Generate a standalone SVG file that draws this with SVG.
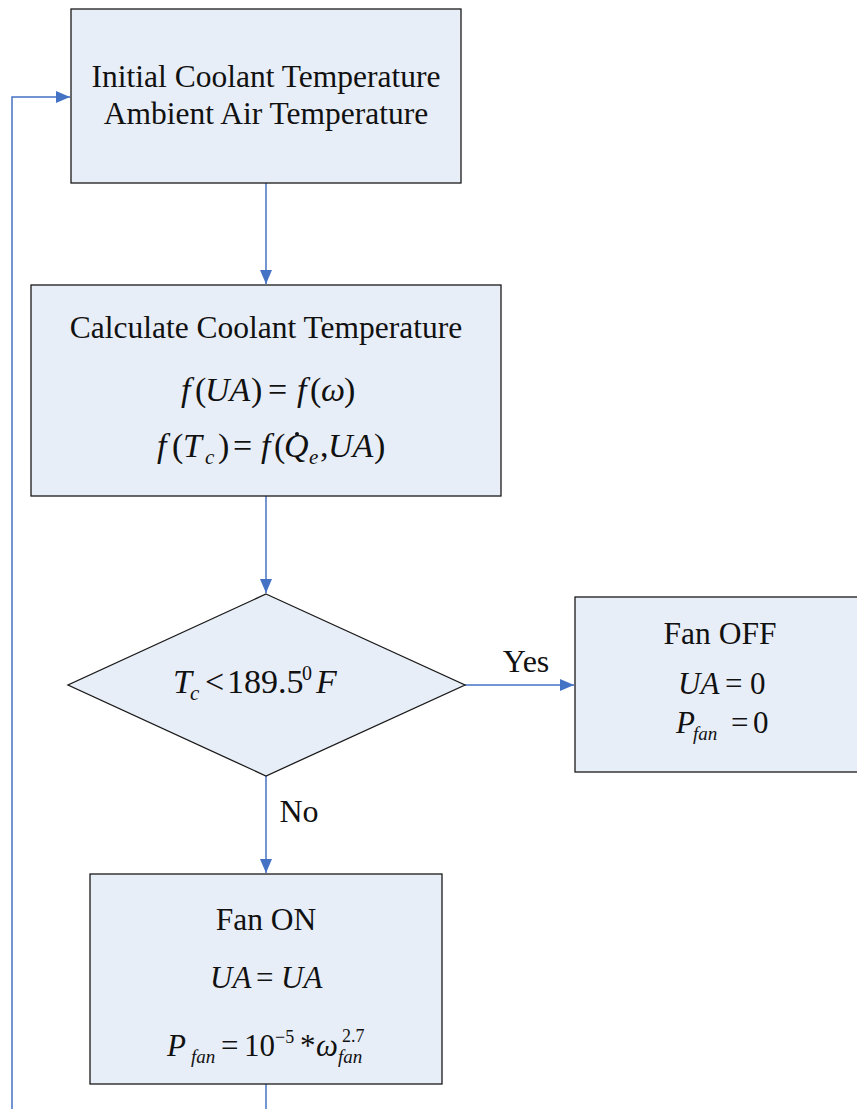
<svg xmlns="http://www.w3.org/2000/svg" width="857" height="1109" viewBox="0 0 857 1109">
<style>
.box{fill:#E8EEF7;stroke:#1a1a1a;stroke-width:1.3}
.t{font-family:"Liberation Serif",serif;font-size:31.5px;fill:#111;text-anchor:middle}
.lb{font-family:"Liberation Serif",serif;font-size:32px;fill:#111;text-anchor:middle}
.m{font-family:"Liberation Serif",serif;font-size:34px;fill:#111}
.mf{font-family:"Liberation Serif",serif;font-size:31px;fill:#111}
.i{font-style:italic}
.s{font-size:21px}
.p{font-size:20px}
.s2{font-size:19px}
.p2{font-size:18px}
.c{stroke:#4472C4;stroke-width:1.5;fill:none}
</style>
<defs>
<marker id="ah2" markerWidth="14" markerHeight="12" refX="14" refY="6" orient="auto" markerUnits="userSpaceOnUse" viewBox="0 0 14 12">
<path d="M0,0 L14,6 L0,12 Z" fill="#4472C4"/>
</marker>
</defs>
<g id="connectors">
<path class="c" d="M266,183 V284" marker-end="url(#ah2)"/>
<path class="c" d="M266,496 V593" marker-end="url(#ah2)"/>
<path class="c" d="M266,776 V873" marker-end="url(#ah2)"/>
<path class="c" d="M465,685 H574" marker-end="url(#ah2)"/>
<path class="c" d="M266,1084 V1109"/>
<path class="c" d="M12,1109 V97 H70" marker-end="url(#ah2)"/>
<text class="lb" x="526" y="672">Yes</text>
<text class="lb" x="299" y="822">No</text>
</g>
<g id="node-init">
<rect class="box" x="71" y="9" width="390" height="174"/>
<text class="t" x="266" y="87">Initial Coolant Temperature</text>
<text class="t" x="266" y="124">Ambient Air Temperature</text>
</g>
<g id="node-calc">
<rect class="box" x="31" y="285" width="470" height="211"/>
<text class="t" x="266" y="338">Calculate Coolant Temperature</text>
<text class="m" y="401"><tspan class="i" x="181">f</tspan><tspan x="195">(</tspan><tspan class="i" x="205">UA</tspan><tspan x="251">)</tspan><tspan x="268">=</tspan><tspan class="i" x="297">f</tspan><tspan x="310">(</tspan><tspan class="i" x="321">ω</tspan><tspan x="344">)</tspan></text>
<text class="m" y="457"><tspan class="i" x="157">f</tspan><tspan x="172">(</tspan><tspan class="i" x="183">T</tspan><tspan class="i s" x="205" dy="7">c</tspan><tspan x="218" dy="-7">)</tspan><tspan x="233">=</tspan><tspan class="i" x="261">f</tspan><tspan x="274">(</tspan><tspan class="i" x="284">Q</tspan><tspan class="i s" x="309" dy="7">e</tspan><tspan x="320" dy="-7">,</tspan><tspan class="i" x="328">UA</tspan><tspan x="374">)</tspan></text>
<circle cx="297" cy="434" r="2" fill="#111"/>
</g>
<g id="node-decision">
<polygon class="box" points="266,594 465,685 266,776 68,685"/>
<text class="m" y="693"><tspan class="i" x="173">T</tspan><tspan class="i s" x="190" dy="7">c</tspan><tspan x="205" dy="-7">&lt;</tspan><tspan x="227">189.5</tspan><tspan class="p" x="302" dy="-13">0</tspan><tspan class="i" x="316" dy="13">F</tspan></text>
</g>
<g id="node-fanoff">
<rect class="box" x="575" y="597" width="290" height="175"/>
<text class="t" x="720" y="644">Fan OFF</text>
<text class="mf" y="694"><tspan class="i" x="678">UA</tspan><tspan x="725">=</tspan><tspan x="750">0</tspan></text>
<text class="mf" y="733"><tspan class="i" x="676">P</tspan><tspan class="i s2" x="693" dy="7">fan</tspan><tspan x="731" dy="-7">=</tspan><tspan x="753">0</tspan></text>
</g>
<g id="node-fanon">
<rect class="box" x="90" y="874" width="352" height="210"/>
<text class="t" x="266" y="930">Fan ON</text>
<text class="mf" y="988"><tspan class="i" x="210">UA</tspan><tspan x="256">=</tspan><tspan class="i" x="281">UA</tspan></text>
<text class="mf" y="1056"><tspan class="i" x="167">P</tspan><tspan class="i s2" x="191" dy="7">fan</tspan><tspan x="221" dy="-7">=</tspan><tspan x="244">10</tspan><tspan class="p2" x="275" dy="-13">−5</tspan><tspan x="300" dy="13">*</tspan><tspan class="i" x="316">ω</tspan><tspan class="p2" x="342" dy="-14">2.7</tspan><tspan class="i s2" x="338" dy="21">fan</tspan></text>
</g>
</svg>
